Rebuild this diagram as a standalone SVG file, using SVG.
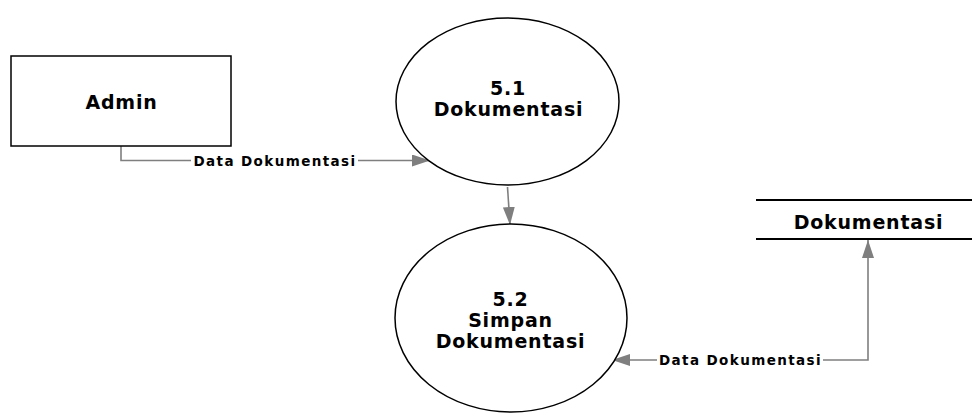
<svg xmlns="http://www.w3.org/2000/svg" width="972" height="413" viewBox="0 0 972 413">
  <style>
    .shape { fill: #ffffff; stroke: #000000; stroke-width: 1.5; }
    .title { font-family: "DejaVu Sans", Verdana, sans-serif; font-weight: bold; font-size: 19px; letter-spacing: 0.8px; fill: #000; text-anchor: middle; }
    .flow { fill: none; stroke: #7f7f7f; stroke-width: 1.6; }
    .flowlabel { font-family: "DejaVu Sans", Verdana, sans-serif; font-weight: bold; font-size: 13.5px; letter-spacing: 1.4px; fill: #000; text-anchor: middle; }
    .labelbg { fill: #ffffff; }
  </style>
  <defs>
    <marker id="arrow" viewBox="0 0 18 12" refX="18" refY="6" markerWidth="18" markerHeight="12" markerUnits="userSpaceOnUse" orient="auto-start-reverse">
      <path d="M0,0 L18,6 L0,12 Z" fill="#7f7f7f"/>
    </marker>
  </defs>

  <rect width="972" height="413" fill="#ffffff"/>

  <g id="connectors">
    <!-- Admin to 5.1 -->
    <path class="flow" d="M121,146 L121,160.5 L430,160.5" marker-end="url(#arrow)"/>
    <rect class="labelbg" x="191" y="153" width="167" height="15"/>
    <text class="flowlabel" x="275" y="165.5">Data Dokumentasi</text>
    <!-- 5.1 to 5.2 -->
    <path class="flow" d="M507.5,187 L510,225" marker-end="url(#arrow)"/>
    <!-- 5.2 and the store, both ways -->
    <path class="flow" d="M868,240 L868,360 L612,360" marker-start="url(#arrow)" marker-end="url(#arrow)"/>
    <rect class="labelbg" x="657" y="352" width="166" height="15"/>
    <text class="flowlabel" x="740.5" y="365">Data Dokumentasi</text>
  </g>

  <g id="admin">
    <rect class="shape" x="11" y="56" width="220" height="90"/>
    <text class="title" x="121.5" y="109">Admin</text>
  </g>

  <g id="proc-5-1">
    <ellipse class="shape" cx="507.5" cy="101.5" rx="111.5" ry="83.5"/>
    <text class="title" x="508" y="95">5.1</text>
    <text class="title" x="508.5" y="116">Dokumentasi</text>
  </g>

  <g id="proc-5-2">
    <ellipse class="shape" cx="511" cy="318" rx="116" ry="94"/>
    <text class="title" x="510.5" y="306">5.2</text>
    <text class="title" x="510.5" y="327">Simpan</text>
    <text class="title" x="510.5" y="348">Dokumentasi</text>
  </g>

  <g id="store-dokumentasi">
    <line x1="756" y1="200" x2="972" y2="200" stroke="#000" stroke-width="2"/>
    <line x1="756" y1="239" x2="972" y2="239" stroke="#000" stroke-width="2"/>
    <text class="title" x="868.5" y="229">Dokumentasi</text>
  </g>
</svg>
